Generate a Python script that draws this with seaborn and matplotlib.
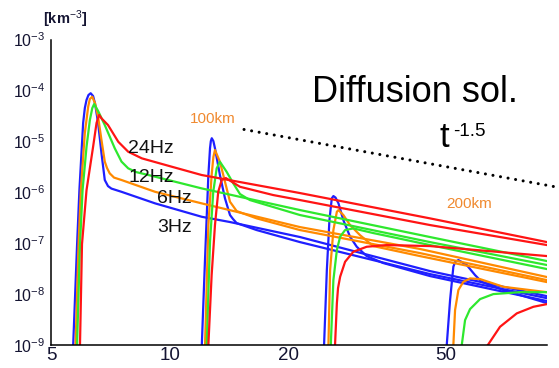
import matplotlib
matplotlib.use("Agg")
import matplotlib.pyplot as plt
import pandas as pd
import seaborn as sns
from matplotlib.ticker import FixedLocator, NullFormatter, LogFormatterSciNotation, FixedFormatter

# frequency bands and their colours
bands = ["3Hz", "6Hz", "12Hz", "24Hz"]
band_colors = ["#1f1fff", "#ff8a00", "#2ee82e", "#ff1414"]

# first arrival
t_a_3hz = [5.66, 5.69, 5.82, 5.90, 6.03, 6.09, 6.15, 6.22, 6.30, 6.39, 6.46, 6.58, 6.71, 6.84, 6.97, 7.11, 7.54, 9.17, 12.03, 14.19, 21.33, 45.5, 90.0]
n_a_3hz = [3e-10, 1.0e-9, 9.2e-8, 1.1e-6, 2.3e-5, 4.51e-5, 6.5e-5, 8.12e-5, 8.8e-5, 7.76e-5, 5.6e-5, 2.3e-5, 5.8e-6, 1.74e-6, 1.32e-6, 1.18e-6, 1.02e-6, 6.05e-7, 3.3e-7, 2.6e-7, 1.32e-7, 2.83e-8, 9.1e-9]
t_a_6hz = [5.73, 5.77, 5.87, 5.95, 6.09, 6.21, 6.27, 6.36, 6.46, 6.58, 6.71, 6.84, 6.93, 7.04, 7.22, 7.54, 9.17, 12.03, 21.33, 42.9, 90.0]
n_a_6hz = [3e-10, 1e-9, 9.2e-8, 1.1e-6, 1.46e-5, 4.8e-5, 6.78e-5, 7.5e-5, 5.65e-5, 3.0e-5, 1.06e-5, 4.0e-6, 2.99e-6, 2.35e-6, 1.94e-6, 1.74e-6, 1.02e-6, 6.05e-7, 2.07e-7, 7.7e-8, 2.16e-8]
t_a_12hz = [5.78, 5.82, 5.92, 6.01, 6.15, 6.27, 6.36, 6.43, 6.58, 6.84, 7.25, 7.54, 7.84, 8.21, 8.82, 12.03, 21.33, 45.5, 90.0]
n_a_12hz = [3e-10, 1e-9, 9.2e-8, 1.1e-6, 7.8e-6, 2.6e-5, 4.5e-5, 5.4e-5, 3.94e-5, 2.09e-5, 7.3e-6, 4.0e-6, 2.95e-6, 2.49e-6, 2.18e-6, 1.19e-6, 4.47e-7, 1.32e-7, 4.45e-8]
t_a_24hz = [5.88, 5.92, 5.99, 6.15, 6.39, 6.52, 6.58, 6.62, 6.71, 6.97, 7.40, 7.84, 8.49, 10.11, 12.03, 21.33, 45.5, 90.0]
n_a_24hz = [3e-10, 1e-9, 9.6e-8, 1.1e-6, 7.8e-6, 2.3e-5, 2.87e-5, 3.3e-5, 2.83e-5, 2.09e-5, 9.8e-6, 6.25e-6, 4.63e-6, 3.17e-6, 2.18e-6, 9.64e-7, 3.07e-7, 1.05e-7]

# second arrival
t_b_3hz = [11.99, 12.04, 12.27, 12.51, 12.63, 12.69, 12.76, 12.88, 13.0, 13.38, 13.78, 14.19, 14.44, 14.75, 16.57, 21.33, 45.5, 90.0]
n_b_3hz = [3e-10, 1e-9, 5.03e-8, 2.18e-6, 7.3e-6, 1.01e-5, 1.15e-5, 1.01e-5, 7.3e-6, 2.18e-6, 7.6e-7, 3.57e-7, 2.98e-7, 2.48e-7, 1.81e-7, 1.05e-7, 2.47e-8, 8.3e-9]
t_b_6hz = [12.20, 12.27, 12.51, 12.75, 12.88, 13.0, 13.38, 13.78, 14.19, 14.75, 16.57, 21.33, 42.9, 90.0]
n_b_6hz = [3e-10, 1e-9, 2.27e-7, 2.18e-6, 4.92e-6, 6.75e-6, 3.97e-6, 1.61e-6, 6.5e-7, 4.27e-7, 3.07e-7, 1.81e-7, 6.39e-8, 1.88e-8]
t_b_12hz = [12.32, 12.39, 12.63, 12.87, 13.13, 13.38, 13.91, 14.46, 15.04, 15.93, 21.33, 45.5, 90.0]
n_b_12hz = [3e-10, 1e-9, 1.065e-7, 1.02e-6, 2.95e-6, 3.97e-6, 2.53e-6, 1.50e-6, 9.22e-7, 7.03e-7, 3.57e-7, 1.05e-7, 3.72e-8]
t_b_24hz = [12.44, 12.51, 12.75, 13.0, 13.25, 13.52, 13.85, 15.04, 18.25, 21.33, 45.5, 90.0]
n_b_24hz = [3e-10, 1e-9, 2.36e-8, 2.27e-7, 1.02e-6, 1.74e-6, 1.90e-6, 1.28e-6, 8.81e-7, 7.03e-7, 2.27e-7, 9.18e-8]

# third arrival
t_c_3hz = [24.40, 24.55, 24.95, 25.33, 25.68, 25.92, 26.24, 26.70, 27.47, 28.56, 29.70, 31.47, 34.66, 45.5, 90.0]
n_c_3hz = [3e-10, 1e-9, 2.96e-8, 2.84e-7, 7.6e-7, 8.42e-7, 7.87e-7, 6.05e-7, 2.84e-7, 1.34e-7, 8.5e-8, 5.58e-8, 4.07e-8, 2.26e-8, 7.29e-9]
t_c_6hz = [25.04, 25.18, 25.43, 25.92, 26.45, 26.70, 27.47, 28.56, 30.26, 32.70, 42.9, 90.0]
n_c_6hz = [3e-10, 1e-9, 2.96e-8, 1.81e-7, 4.14e-7, 4.47e-7, 3.57e-7, 2.27e-7, 1.44e-7, 8.77e-8, 5.58e-8, 1.72e-8]
t_c_12hz = [25.39, 25.53, 25.92, 26.45, 26.96, 27.75, 29.11, 32.70, 45.5, 90.0]
n_c_12hz = [3e-10, 1e-9, 1.88e-8, 7.32e-8, 1.34e-7, 1.81e-7, 1.95e-7, 1.58e-7, 9.18e-8, 3.10e-8]
t_c_24hz = [26.12, 26.17, 26.45, 26.63, 26.96, 27.75, 29.11, 31.47, 35.35, 45.5, 90.0]
n_c_24hz = [3e-10, 1e-9, 6.57e-9, 1.31e-8, 2.19e-8, 4.31e-8, 6.78e-8, 8.5e-8, 9.18e-8, 8.77e-8, 5.58e-8]

# fourth arrival
t_d_3hz = [49.89, 50.18, 51.16, 52.15, 52.67, 53.70, 56.38, 59.18, 61.53, 69.80, 90.0]
n_d_3hz = [3e-10, 1e-9, 7.62e-9, 3.44e-8, 4.25e-8, 4.66e-8, 3.72e-8, 2.36e-8, 1.74e-8, 1.20e-8, 6.65e-9]
t_d_6hz = [51.85, 52.15, 52.67, 53.70, 55.27, 57.47, 60.93, 69.80, 90.0]
n_d_6hz = [3e-10, 1e-9, 4.85e-9, 1.20e-8, 1.74e-8, 2.03e-8, 1.97e-8, 1.39e-8, 1.09e-8]
t_d_12hz = [54.45, 54.77, 55.83, 57.47, 60.93, 65.83, 76.9, 90.0]
n_d_12hz = [3e-10, 1e-9, 3.08e-9, 5.07e-9, 7.97e-9, 1.0e-8, 1.09e-8, 1.09e-8]
t_d_24hz = [61.9, 63.36, 68.45, 75.47, 83.14, 90.0]
n_d_24hz = [3e-10, 9.3e-10, 2.28e-9, 4.18e-9, 5.63e-9, 6.36e-9]

# diffusion-solution reference slope, t^-1.5
t_slope = [15.4, 96.5]
n_slope = [1.71e-5, 1.24e-6]

y_ticks = [1e-9, 1e-8, 1e-7, 1e-6, 1e-5, 1e-4, 1e-3]
x_ticks = [5, 10, 20, 50]
x_tick_labels = ["5", "10", "20", "50"]
x_minor = [6, 7, 8, 9, 15, 30, 40, 60, 70, 80, 90]

curves = [
    ("a", "3Hz", t_a_3hz, n_a_3hz), ("a", "6Hz", t_a_6hz, n_a_6hz),
    ("a", "12Hz", t_a_12hz, n_a_12hz), ("a", "24Hz", t_a_24hz, n_a_24hz),
    ("b", "3Hz", t_b_3hz, n_b_3hz), ("b", "6Hz", t_b_6hz, n_b_6hz),
    ("b", "12Hz", t_b_12hz, n_b_12hz), ("b", "24Hz", t_b_24hz, n_b_24hz),
    ("c", "3Hz", t_c_3hz, n_c_3hz), ("c", "6Hz", t_c_6hz, n_c_6hz),
    ("c", "12Hz", t_c_12hz, n_c_12hz), ("c", "24Hz", t_c_24hz, n_c_24hz),
    ("d", "3Hz", t_d_3hz, n_d_3hz), ("d", "6Hz", t_d_6hz, n_d_6hz),
    ("d", "12Hz", t_d_12hz, n_d_12hz), ("d", "24Hz", t_d_24hz, n_d_24hz),
]
df = pd.concat(
    [pd.DataFrame({"t": t, "n": n, "band": b, "src": f"{s}_{b}"}) for s, b, t, n in curves],
    ignore_index=True,
)

sns.set_style("white")
plt.rcParams["font.family"] = ["Liberation Sans", "DejaVu Sans"]
plt.rcParams["mathtext.fontset"] = "custom"
plt.rcParams["mathtext.rm"] = "Liberation Sans"
plt.rcParams["mathtext.it"] = "Liberation Sans:italic"
plt.rcParams["mathtext.bf"] = "Liberation Sans:bold"
plt.rcParams["lines.solid_joinstyle"] = "round"

W, H = 559, 368
fig = plt.figure(figsize=(W / 100, H / 100), dpi=100)
ax = fig.add_axes([51 / W, (H - 345) / H, 496 / W, 305.5 / H])

sns.lineplot(
    data=df, x="t", y="n", hue="band", hue_order=bands, palette=band_colors,
    units="src", estimator=None, sort=False, linewidth=1.6, legend=False, ax=ax,
)
ax.plot(t_slope, n_slope, color="black", linewidth=2.2,
        linestyle=(0, (0.01, 2.5)), dash_capstyle="round", clip_on=False)

ax.set_xscale("log")
ax.set_yscale("log")
ax.set_xlim(5, 90)
ax.set_ylim(1e-9, 1e-3)
ax.set_xlabel("")
ax.set_ylabel("")

for side in ("top", "right"):
    ax.spines[side].set_visible(False)
for side in ("left", "bottom"):
    ax.spines[side].set_color("black")
    ax.spines[side].set_linewidth(1.1)

label_color = "#141432"
ax.yaxis.set_major_locator(FixedLocator(y_ticks))
ax.yaxis.set_major_formatter(LogFormatterSciNotation())
minor_y = [m * 10.0 ** e for e in range(-9, -3) for m in range(2, 10)]
ax.yaxis.set_minor_locator(FixedLocator(minor_y))
ax.yaxis.set_minor_formatter(NullFormatter())
ax.xaxis.set_major_locator(FixedLocator(x_ticks))
ax.xaxis.set_major_formatter(FixedFormatter(x_tick_labels))
ax.xaxis.set_minor_locator(FixedLocator(x_minor))
ax.xaxis.set_minor_formatter(NullFormatter())

ax.tick_params(axis="both", which="both", direction="in", color="black", width=1.1)
ax.tick_params(axis="y", which="major", length=4.5, pad=4.3, labelsize=11.5, labelcolor=label_color)
ax.tick_params(axis="y", which="minor", length=2.4)
ax.tick_params(axis="x", which="major", length=4.2, pad=1.5, labelsize=13.5, labelcolor=label_color)
ax.tick_params(axis="x", which="minor", length=2.4)
ax.grid(False)


def px(x, y):
    return x / W, 1 - y / H


fig.text(*px(43, 24), r"[km$^{-3}$]", fontsize=10.5, fontweight="bold", color=label_color, va="baseline")
fig.text(*px(312, 101.7), "Diffusion sol.", fontsize=26, color="black", va="baseline")
fig.text(*px(440, 147), "t", fontsize=25, color="black", va="baseline")
fig.text(*px(453, 136.5), "-1.5", fontsize=13.5, color="black", va="baseline")
fig.text(*px(190, 123), "100km", fontsize=11, color="#f08a30", va="baseline")
fig.text(*px(446, 208), "200km", fontsize=11, color="#f08a30", va="baseline")
fig.text(*px(128, 153), "24Hz", fontsize=14, color="#111111", va="baseline")
fig.text(*px(129, 182), "12Hz", fontsize=14, color="#111111", va="baseline")
fig.text(*px(157, 203), "6Hz", fontsize=14, color="#111111", va="baseline")
fig.text(*px(157, 232), "3Hz", fontsize=14, color="#111111", va="baseline")

fig.savefig("out.png", dpi=100)
